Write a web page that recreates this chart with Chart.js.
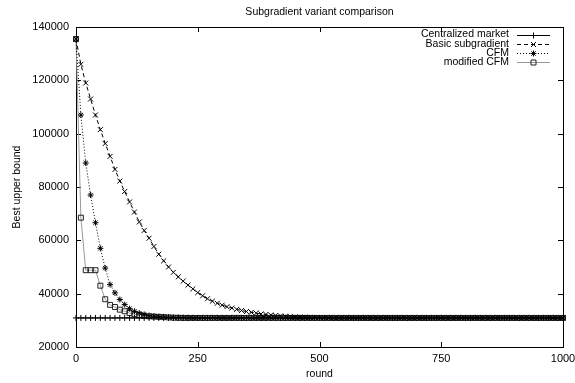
<!DOCTYPE html>
<html lang="en">
<head>
<meta charset="UTF-8">
<title>Subgradient variant comparison</title>
<script src="https://cdn.jsdelivr.net/npm/chart.js"></script>
<style>
    html, body { margin: 0; padding: 0; background: #ffffff; }
    #wrap { width: 575px; height: 383px; position: relative; }
</style>
</head>
<body>
<div id="wrap"><canvas id="chart"></canvas></div>
<script>
// rounds (x values), one marker every 10 rounds
const rounds = [
    0, 10, 20, 30, 40, 50, 60, 70, 80, 90,
    100, 110, 120, 130, 140, 150, 160, 170, 180, 190,
    200, 210, 220, 230, 240, 250, 260, 270, 280, 290,
    300, 310, 320, 330, 340, 350, 360, 370, 380, 390,
    400, 410, 420, 430, 440, 450, 460, 470, 480, 490,
    500, 510, 520, 530, 540, 550, 560, 570, 580, 590,
    600, 610, 620, 630, 640, 650, 660, 670, 680, 690,
    700, 710, 720, 730, 740, 750, 760, 770, 780, 790,
    800, 810, 820, 830, 840, 850, 860, 870, 880, 890,
    900, 910, 920, 930, 940, 950, 960, 970, 980, 990,
    1000
];

const centralized = [
    30900, 30900, 30900, 30900, 30900, 30900, 30900, 30900, 30900, 30900,
    30900, 30900, 30900, 30900, 30900, 30900, 30900, 30900, 30900, 30900,
    30900, 30900, 30900, 30900, 30900, 30900, 30900, 30900, 30900, 30900,
    30900, 30900, 30900, 30900, 30900, 30900, 30900, 30900, 30900, 30900,
    30900, 30900, 30900, 30900, 30900, 30900, 30900, 30900, 30900, 30900,
    30900, 30900, 30900, 30900, 30900, 30900, 30900, 30900, 30900, 30900,
    30900, 30900, 30900, 30900, 30900, 30900, 30900, 30900, 30900, 30900,
    30900, 30900, 30900, 30900, 30900, 30900, 30900, 30900, 30900, 30900,
    30900, 30900, 30900, 30900, 30900, 30900, 30900, 30900, 30900, 30900,
    30900, 30900, 30900, 30900, 30900, 30900, 30900, 30900, 30900, 30900,
    30900
];

const basicSub = [
    135500, 126000, 119000, 113000, 107000, 101500, 96300, 91500, 86600, 82200,
    78300, 74400, 70600, 66900, 63700, 60800, 57700, 54800, 52300, 50000,
    48000, 46300, 44700, 43200, 41800, 40400, 39200, 38100, 37200, 36400,
    35700, 35100, 34600, 34100, 33700, 33300, 33000, 32700, 32400, 32200,
    32000, 31800, 31650, 31500, 31400, 31300, 31200, 31150, 31100, 31050,
    31000, 30950, 30950, 30900, 30900, 30900, 30900, 30900, 30900, 30900,
    30900, 30900, 30900, 30900, 30900, 30900, 30900, 30900, 30900, 30900,
    30900, 30900, 30900, 30900, 30900, 30900, 30900, 30900, 30900, 30900,
    30900, 30900, 30900, 30900, 30900, 30900, 30900, 30900, 30900, 30900,
    30900, 30900, 30900, 30900, 30900, 30900, 30900, 30900, 30900, 30900,
    30900
];

const cfm = [
    135500, 107000, 89000, 77000, 66600, 57000, 49600, 43400, 40300, 37800,
    35900, 34400, 33400, 32700, 32200, 31800, 31600, 31400, 31300, 31200,
    31100, 31050, 31000, 30950, 30900, 30900, 30900, 30900, 30900, 30900,
    30900, 30900, 30900, 30900, 30900, 30900, 30900, 30900, 30900, 30900,
    30900, 30900, 30900, 30900, 30900, 30900, 30900, 30900, 30900, 30900,
    30900, 30900, 30900, 30900, 30900, 30900, 30900, 30900, 30900, 30900,
    30900, 30900, 30900, 30900, 30900, 30900, 30900, 30900, 30900, 30900,
    30900, 30900, 30900, 30900, 30900, 30900, 30900, 30900, 30900, 30900,
    30900, 30900, 30900, 30900, 30900, 30900, 30900, 30900, 30900, 30900,
    30900, 30900, 30900, 30900, 30900, 30900, 30900, 30900, 30900, 30900,
    30900
];

const modifiedCfm = [
    135500, 68500, 48800, 48800, 48800, 43000, 37900, 35800, 35000, 34000,
    33400, 32700, 32300, 32000, 31700, 31500, 31400, 31300, 31200, 31100,
    31000, 30950, 30900, 30900, 30900, 30900, 30900, 30900, 30900, 30900,
    30900, 30900, 30900, 30900, 30900, 30900, 30900, 30900, 30900, 30900,
    30900, 30900, 30900, 30900, 30900, 30900, 30900, 30900, 30900, 30900,
    30900, 30900, 30900, 30900, 30900, 30900, 30900, 30900, 30900, 30900,
    30900, 30900, 30900, 30900, 30900, 30900, 30900, 30900, 30900, 30900,
    30900, 30900, 30900, 30900, 30900, 30900, 30900, 30900, 30900, 30900,
    30900, 30900, 30900, 30900, 30900, 30900, 30900, 30900, 30900, 30900,
    30900, 30900, 30900, 30900, 30900, 30900, 30900, 30900, 30900, 30900,
    30900
];

const seriesNames = ["Centralized market", "Basic subgradient", "CFM", "modified CFM"];
const xTicks = [0, 250, 500, 750, 1000];
const yTicks = [20000, 40000, 60000, 80000, 100000, 120000, 140000];

const FONT = "'Liberation Sans', Arial, Helvetica, sans-serif";
Chart.defaults.font.family = FONT;
Chart.defaults.color = "#000";

function pts(values) {
    return rounds.map((r, i) => ({ x: r, y: values[i] }));
}

// marker drawn in the legend samples
function marker(ctx, style, x, y) {
    ctx.beginPath();
    if (style === "cross") {
        ctx.moveTo(x - 3, y); ctx.lineTo(x + 3, y);
        ctx.moveTo(x, y - 3); ctx.lineTo(x, y + 3);
    } else if (style === "crossRot") {
        ctx.moveTo(x - 2.5, y - 2.5); ctx.lineTo(x + 2.5, y + 2.5);
        ctx.moveTo(x - 2.5, y + 2.5); ctx.lineTo(x + 2.5, y - 2.5);
    } else if (style === "star") {
        ctx.moveTo(x - 3, y); ctx.lineTo(x + 3, y);
        ctx.moveTo(x, y - 3); ctx.lineTo(x, y + 3);
        ctx.moveTo(x - 2.2, y - 2.2); ctx.lineTo(x + 2.2, y + 2.2);
        ctx.moveTo(x - 2.2, y + 2.2); ctx.lineTo(x + 2.2, y - 2.2);
    } else {
        ctx.rect(x - 2.5, y - 2.5, 5, 5);
    }
    ctx.stroke();
}

// gnuplot-like frame, inward mirrored ticks, title and legend
const gnuplotLook = {
    id: "gnuplotLook",
    beforeDatasetsDraw(chart) {
        const { ctx, chartArea: a, scales } = chart;
        ctx.save();
        ctx.strokeStyle = "#000";
        ctx.lineWidth = 1;
        ctx.beginPath();
        xTicks.forEach(v => {
            const px = Math.round(scales.x.getPixelForValue(v)) + 0.5;
            ctx.moveTo(px, a.bottom); ctx.lineTo(px, a.bottom - 5);
            ctx.moveTo(px, a.top); ctx.lineTo(px, a.top + 5);
        });
        yTicks.forEach(v => {
            const py = Math.round(scales.y.getPixelForValue(v)) + 0.5;
            ctx.moveTo(a.left, py); ctx.lineTo(a.left + 5, py);
            ctx.moveTo(a.right, py); ctx.lineTo(a.right - 5, py);
        });
        ctx.stroke();
        ctx.strokeRect(Math.round(a.left) + 0.5, Math.round(a.top) + 0.5,
            Math.round(a.right - a.left), Math.round(a.bottom - a.top));
        ctx.restore();
    },
    afterDraw(chart) {
        const { ctx, chartArea: a } = chart;
        ctx.save();
        ctx.fillStyle = "#000";
        ctx.font = "10.5px " + FONT;
        ctx.textAlign = "center";
        ctx.textBaseline = "middle";
        ctx.fillText("Subgradient variant comparison", (a.left + a.right) / 2, 12);

        ctx.textAlign = "right";
        chart.data.datasets.forEach((ds, i) => {
            const y = 34.5 + i * 9.2;
            ctx.fillStyle = "#000";
            ctx.fillText(ds.label, 509, y);
            ctx.lineWidth = 1;
            ctx.strokeStyle = ds.borderColor;
            ctx.setLineDash(ds.borderDash || []);
            ctx.beginPath();
            ctx.moveTo(517, Math.round(y) + 0.5);
            ctx.lineTo(550, Math.round(y) + 0.5);
            ctx.stroke();
            ctx.setLineDash([]);
            ctx.strokeStyle = ds.pointBorderColor;
            marker(ctx, ds.pointStyle, 533.5, Math.round(y) + 0.5);
        });
        ctx.restore();
    }
};

const common = {
    borderWidth: 1,
    pointBorderWidth: 1,
    pointBackgroundColor: "rgba(0,0,0,0)",
    pointBorderColor: "#000",
    fill: false,
    tension: 0,
    clip: false
};

new Chart(document.getElementById("chart"), {
    type: "line",
    data: {
        datasets: [
            Object.assign({}, common, {
                label: seriesNames[0], data: pts(centralized),
                borderColor: "#000", pointStyle: "cross", pointRadius: 3
            }),
            Object.assign({}, common, {
                label: seriesNames[1], data: pts(basicSub),
                borderColor: "#000", borderDash: [4, 3], pointStyle: "crossRot", pointRadius: 3.5
            }),
            Object.assign({}, common, {
                label: seriesNames[2], data: pts(cfm),
                borderColor: "#000", borderDash: [1, 2], pointStyle: "star", pointRadius: 3
            }),
            Object.assign({}, common, {
                label: seriesNames[3], data: pts(modifiedCfm),
                borderColor: "#999", pointBorderColor: "#222", pointStyle: "rect", pointRadius: 3.5
            })
        ]
    },
    options: {
        responsive: true,
        maintainAspectRatio: false,
        animation: false,
        layout: { padding: { left: 0, right: 12, top: 27, bottom: 0 } },
        plugins: {
            legend: { display: false },
            title: { display: false },
            tooltip: { enabled: false }
        },
        scales: {
            x: {
                type: "linear",
                min: 0,
                max: 1000,
                grid: { display: false, drawTicks: false },
                border: { display: false },
                ticks: {
                    stepSize: 250,
                    padding: 5,
                    maxRotation: 0,
                    font: { size: 11 },
                    callback: v => String(v)
                },
                title: { display: true, text: "round", font: { size: 10.5 }, padding: { top: 0, bottom: 2.5 } },
                afterFit(s) { s.height = 36; s.paddingLeft = 0; s.paddingRight = 0; }
            },
            y: {
                min: 20000,
                max: 140000,
                grid: { display: false, drawTicks: false },
                border: { display: false },
                ticks: {
                    stepSize: 20000,
                    padding: 7,
                    font: { size: 11 },
                    callback: v => String(v)
                },
                title: { display: true, text: "Best upper bound", font: { size: 10.5 }, padding: { top: 10.5, bottom: 0 } },
                afterFit(s) { s.width = 76; s.paddingTop = 0; s.paddingBottom = 0; }
            }
        }
    },
    plugins: [gnuplotLook]
});
</script>
</body>
</html>
